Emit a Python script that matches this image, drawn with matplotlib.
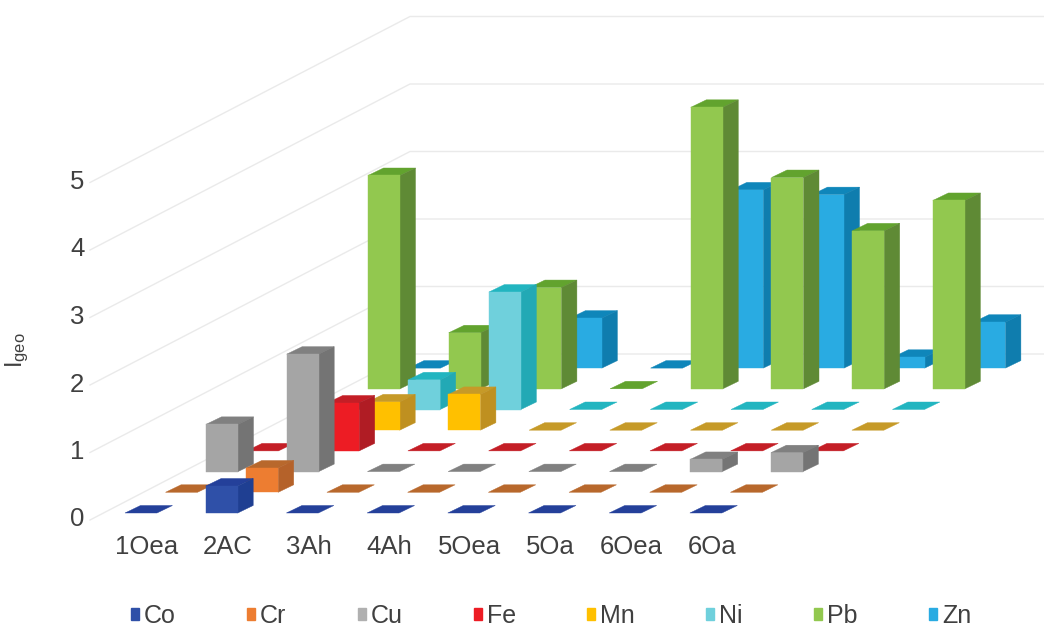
import matplotlib
matplotlib.use("Agg")
import matplotlib.pyplot as plt
from matplotlib.patches import Polygon, Patch

plt.rcParams['font.family'] = ['Liberation Sans', 'DejaVu Sans']
plt.rcParams['mathtext.fontset'] = 'custom'
plt.rcParams['mathtext.rm'] = 'Liberation Sans'
plt.rcParams['mathtext.default'] = 'regular'

categories = ['1Oea', '2AC', '3Ah', '4Ah', '5Oea', '5Oa', '6Oea', '6Oa']
series_names = ['Co', 'Cr', 'Cu', 'Fe', 'Mn', 'Ni', 'Pb', 'Zn']
Co = [0, 0.40, 0, 0, 0, 0, 0, 0]
Cr = [0, 0.36, 0, 0, 0, 0, 0, 0]
Cu = [0.70, 1.74, 0, 0, 0, 0, 0.18, 0.28]
Fe = [0, 0.71, 0, 0, 0, 0, 0, 0]
Mn = [0, 0.42, 0.53, 0, 0, 0, 0, 0]
Ni = [0, 0.44, 1.74, 0, 0, 0, 0, 0]
Pb = [3.16, 0.83, 1.50, 0, 4.17, 3.13, 2.34, 2.79]
Zn = [0, 0, 0.74, 0, 2.64, 2.57, 0.16, 0.68]
series_values = [Co, Cr, Cu, Fe, Mn, Ni, Pb, Zn]

front_colors = ['#2F50A8', '#ED7D31', '#A5A5A5', '#ED1C24', '#FFC000', '#6FD0DC', '#92C84F', '#29ABE2']
side_colors = ['#1F3F92', '#B5622A', '#747474', '#B01C24', '#BF9020', '#22A9B5', '#5F8A35', '#0F7DAE']
top_colors = ['#24409A', '#B8682C', '#808080', '#C41E26', '#C69A28', '#22B5C0', '#62A32E', '#0F86BA']
legend_colors = ['#2F50A8', '#ED7D31', '#B0B0B0', '#ED1C24', '#FFC000', '#6FD0DC', '#92C84F', '#29ABE2']
text_color = '#404040'
grid_color = '#EAEAEA'

W, H = 1044, 626
PX_X = 80.7     # pixels per category
PX_Y = 67.5     # pixels per value unit
X0_PX = 147     # pixel of category 0
Y0_PX = 517     # pixel of value 0
LEFT_PX, BOTTOM_PX = 90, 532

fig = plt.figure(figsize=(W / 100, H / 100), dpi=100, facecolor='white')
ax = fig.add_axes([LEFT_PX / W, (H - BOTTOM_PX) / H, (W - LEFT_PX) / W, BOTTOM_PX / H])
ax.set_xlim((LEFT_PX - X0_PX) / PX_X, (W - X0_PX) / PX_X)
ax.set_ylim((Y0_PX - BOTTOM_PX) / PX_Y, Y0_PX / PX_Y)
ax.set_facecolor('none')
for s in ax.spines.values():
    s.set_visible(False)

# oblique projection constants (data units of the front plane)
series_dx = 40.5 / PX_X
series_dy = 20.7 / PX_Y
bar_w = 32 / PX_X
bar_dx = 15.5 / PX_X
bar_dy = 7.5 / PX_Y
base_x = -6 / PX_X
base_y = 4 / PX_Y

# gridlines: side wall rising to the back wall, then along it
xl, xr = ax.get_xlim()
wall_dx = 320 / PX_X
wall_dy = 166 / PX_Y
for v in range(0, 6):
    y_left = v - 3 / PX_Y
    ax.plot([xl, xl + wall_dx, xr], [y_left, y_left + wall_dy, y_left + wall_dy],
            color=grid_color, lw=1.0, zorder=1, clip_on=False)


def draw_bar(cat, ser, val, front, side, top, z):
    xc = cat + base_x + ser * series_dx
    yb = base_y + ser * series_dy
    x1, x2 = xc - bar_w / 2, xc + bar_w / 2
    yt = yb + val
    ax.add_patch(Polygon([(x1, yt), (x2, yt), (x2 + bar_dx, yt + bar_dy), (x1 + bar_dx, yt + bar_dy)],
                         closed=True, fc=top, ec=top, lw=0.3, zorder=z))
    if val > 0:
        ax.add_patch(Polygon([(x2, yb), (x2 + bar_dx, yb + bar_dy), (x2 + bar_dx, yt + bar_dy), (x2, yt)],
                             closed=True, fc=side, ec=side, lw=0.3, zorder=z))
        ax.add_patch(Polygon([(x1, yb), (x2, yb), (x2, yt), (x1, yt)],
                             closed=True, fc=front, ec=front, lw=0.3, zorder=z))


n_series = len(series_names)
for ser in range(n_series - 1, -1, -1):
    z = 2 + (n_series - ser)
    for cat, val in enumerate(series_values[ser]):
        draw_bar(cat, ser, val, front_colors[ser], side_colors[ser], top_colors[ser], z)

ax.set_xticks(range(len(categories)))
ax.set_xticklabels(categories)
ax.set_yticks(range(0, 6))
ax.tick_params(axis='both', length=0, labelsize=18.5, labelcolor=text_color)
ax.tick_params(axis='x', pad=2)
ax.tick_params(axis='y', pad=4)

ax.set_ylabel(r'I$_{geo}$', fontsize=17, color=text_color)
ax.yaxis.set_label_coords((31 - LEFT_PX) / (W - LEFT_PX), (BOTTOM_PX - 350) / BOTTOM_PX)

handles = [Patch(fc=c, ec=c, label=n) for c, n in zip(legend_colors, series_names)]
fig.legend(handles=handles, loc='center', ncol=8, frameon=False,
           bbox_to_anchor=(551 / W, (H - 616) / H), fontsize=18, labelcolor=text_color,
           handlelength=0.32, handleheight=0.32, handletextpad=0.2, columnspacing=2.85,
           borderpad=0, borderaxespad=0)

fig.savefig('out.png', dpi=100, facecolor='white')
